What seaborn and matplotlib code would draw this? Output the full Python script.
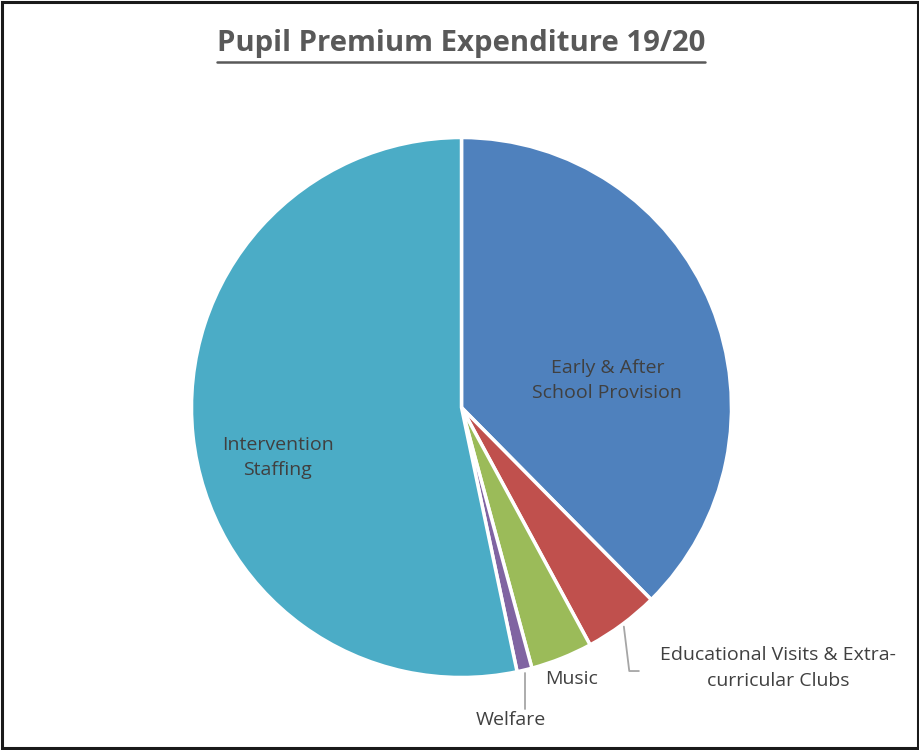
import numpy as np
import matplotlib
matplotlib.use("Agg")
import matplotlib.pyplot as plt
import seaborn as sns
from matplotlib.lines import Line2D
from matplotlib.patches import Rectangle

# data (share of spend, %)
categories = ["Early & After\nSchool Provision",
              "Educational Visits & Extra-\ncurricular Clubs",
              "Music", "Welfare", "Intervention\nStaffing"]
shares = [37.6, 4.5, 3.7, 0.9, 53.3]
colours = ["#4F81BD", "#C0504D", "#9BBB59", "#8064A2", "#4BACC6"]

sns.set_theme(style="white")
plt.rcParams["font.family"] = ["Open Sans", "DejaVu Sans"]

fig = plt.figure(figsize=(9.2, 7.5), dpi=100)
# pie centre at (461.5, 407.5) px, radius 270 px
ax = fig.add_axes([29.5 / 920, 5 / 750, 864 / 920, 675 / 750])

wedges, _ = ax.pie(shares, colors=colours, startangle=90, counterclock=False,
                   radius=1, wedgeprops=dict(edgecolor="white", linewidth=2.5))
ax.set_xlim(-1.6, 1.6)
ax.set_ylim(-1.25, 1.25)
ax.set_aspect("equal")
ax.axis("off")

txt = dict(fontsize=14, color="#404040", ha="center", va="center",
           linespacing=1.55)

# labels inside the two big slices
ax.text(0.54, 0.10, categories[0], **txt)
ax.text(-0.68, -0.185, categories[4], **txt)

# outside labels with leader lines
def mid_point(w, r):
    a = np.deg2rad((w.theta1 + w.theta2) / 2)
    return r * np.cos(a), r * np.sin(a)

lc = "#A6A6A6"
x0, y0 = mid_point(wedges[1], 1.01)
ax.plot([x0, x0 + 0.02, 0.657], [y0, -0.976, -0.976], color=lc, lw=1.3,
        clip_on=False)
ax.text(1.172, -0.965, categories[1], **txt)

ax.text(0.406, -1.006, categories[2], **txt)

x0, y0 = mid_point(wedges[3], 1.01)
ax.plot([x0, x0], [y0, -1.117], color=lc, lw=1.3, clip_on=False)
ax.text(0.183, -1.157, categories[3], **txt)

# title with underline
title = fig.text(461 / 920, 1 - 44 / 750, "Pupil Premium Expenditure 19/20",
                 fontsize=21.2, fontweight="bold", color="#595959",
                 ha="center", va="center")
fig.canvas.draw()
bb = title.get_window_extent().transformed(fig.transFigure.inverted())
fig.add_artist(Line2D([bb.x0, bb.x1], [1 - 61.5 / 750] * 2,
                      transform=fig.transFigure, color="#595959", lw=1.8))

# outer frame
fig.add_artist(Rectangle((0.002, 0.003), 0.996, 0.994, transform=fig.transFigure,
                         fill=False, edgecolor="#1a1a1a", lw=2.2))

fig.savefig("out.png", dpi=100, facecolor="white")
